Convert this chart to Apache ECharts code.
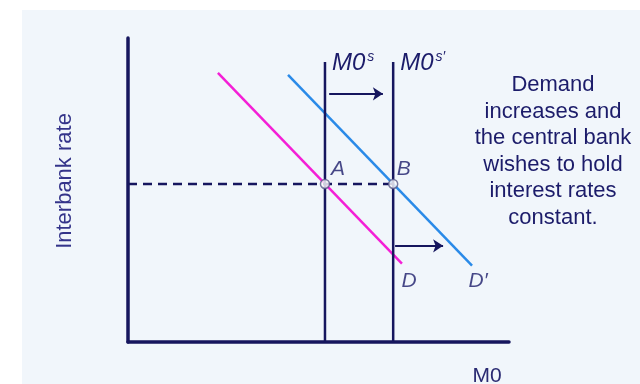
<!DOCTYPE html>
<html>
<head>
<meta charset="utf-8">
<title>Interbank rate</title>
<script src="https://cdn.jsdelivr.net/npm/echarts@6/dist/echarts.min.js"></script>
<style>
  html, body { margin: 0; padding: 0; background: #fff; }
  #main { width: 640px; height: 384px; }
</style>
</head>
<body>
<div id="main"></div>
<script>
  // demand curves (x = M0, y = interbank rate)
  var demandD = [[2.36, 7.08], [7.19, 2.06]]
  var demandD2 = [[4.20, 7.03], [9.03, 2.01]]
  // money supply before and after
  var supplyX = [5.17, 6.96]
  var supplyTop = 7.37
  // held interest rate
  var rate = 4.16
  // shift arrows [x from, x to, y]
  var arrowTop = [5.28, 6.69, 6.53]
  var arrowBottom = [7.01, 8.27, 2.53]
  // point labels [x, y, text]
  var pointLabels = [
    [5.51, 4.55, 'A'],
    [7.24, 4.55, 'B'],
    [7.38, 1.60, 'D'],
    [9.19, 1.60, 'D′']
  ]
  var supplyLabels = ['{m|M0}{s|s}', '{m|M0}{s|s′}']

  var navy = '#16165e'
  var textNavy = '#1c1c6a'

  var myChart = echarts.init(document.getElementById('main'))

  var supplySeries = supplyX.map(function(x, i) {
    return {
      type: 'line',
      data: [[x, 0], [x, supplyTop]],
      symbol: 'none',
      lineStyle: { color: navy, width: 2.5 },
      silent: true,
      z: 3,
      endLabel: {
        show: true,
        formatter: supplyLabels[i],
        offset: [-1, 1],
        rich: {
          m: { fontFamily: 'Liberation Sans', fontStyle: 'italic', fontSize: 24, color: textNavy, lineHeight: 26 },
          s: { fontFamily: 'Liberation Sans', fontStyle: 'italic', fontSize: 14, color: textNavy, verticalAlign: 'top', lineHeight: 14, padding: [0, 0, 0, 2] }
        }
      }
    }
  })

  var option = {
    backgroundColor: '#fff',
    animation: false,
    graphic: [
      { type: 'rect', shape: { x: 22, y: 10, width: 618, height: 374 }, style: { fill: '#f1f6fb' }, z: -10 },
      {
        type: 'text', x: 65, y: 181, rotation: Math.PI / 2,
        style: { text: 'Interbank rate', fontFamily: 'Liberation Sans', fontSize: 22, fill: '#34348a', textAlign: 'center', textVerticalAlign: 'middle' }
      },
      {
        type: 'text', x: 487, y: 376,
        style: { text: 'M0', fontFamily: 'Liberation Sans', fontSize: 21, fill: '#2a2a72', textAlign: 'center', textVerticalAlign: 'middle' }
      },
      {
        type: 'text', x: 553, y: 72,
        style: {
          text: 'Demand\nincreases and\nthe central bank\nwishes to hold\ninterest rates\nconstant.',
          fontFamily: 'Liberation Sans', fontSize: 22, lineHeight: 26.5, fill: textNavy, textAlign: 'center', textVerticalAlign: 'top'
        }
      }
    ],
    grid: { left: 128, top: 38, right: 131, bottom: 42 },
    xAxis: {
      type: 'value', min: 0, max: 10,
      axisLine: { show: true, onZero: false, lineStyle: { color: navy, width: 3.5 } },
      axisTick: { show: false }, axisLabel: { show: false }, splitLine: { show: false }
    },
    yAxis: {
      type: 'value', min: 0, max: 8,
      axisLine: { show: true, onZero: false, lineStyle: { color: navy, width: 3.5 } },
      axisTick: { show: false }, axisLabel: { show: false }, splitLine: { show: false }
    },
    series: [
      {
        name: 'D', type: 'line', data: demandD, symbol: 'none',
        lineStyle: { color: '#f41fd6', width: 2.5 }, z: 2
      },
      {
        name: "D'", type: 'line', data: demandD2, symbol: 'none',
        lineStyle: { color: '#2a8ae8', width: 2.5 }, z: 2
      }
    ].concat(supplySeries).concat([
      {
        // dashed rate line
        type: 'line', data: [[0, rate], [supplyX[1], rate]], symbol: 'none',
        lineStyle: { color: navy, width: 2.5, type: [9, 6] }, z: 4,
        markLine: {
          silent: true,
          symbol: ['none', 'arrow'],
          symbolSize: 10,
          label: { show: false },
          lineStyle: { color: navy, width: 2, type: 'solid' },
          data: [
            [{ coord: [arrowTop[0], arrowTop[2]] }, { coord: [arrowTop[1], arrowTop[2]] }],
            [{ coord: [arrowBottom[0], arrowBottom[2]] }, { coord: [arrowBottom[1], arrowBottom[2]] }]
          ]
        }
      },
      {
        // equilibrium points A and B
        type: 'scatter', data: [[supplyX[0], rate], [supplyX[1], rate]],
        symbol: 'circle', symbolSize: 9,
        itemStyle: { color: '#fff', borderColor: '#5a5a88', borderWidth: 1.5 }, z: 6
      },
      {
        type: 'scatter', data: pointLabels, symbolSize: 0, silent: true, z: 7,
        label: {
          show: true, position: 'inside',
          formatter: function(p) { return p.data[2] },
          fontFamily: 'Liberation Sans', fontStyle: 'italic', fontSize: 21, color: textNavy
        }
      }
    ])
  }

  myChart.setOption(option)
</script>
</body>
</html>
